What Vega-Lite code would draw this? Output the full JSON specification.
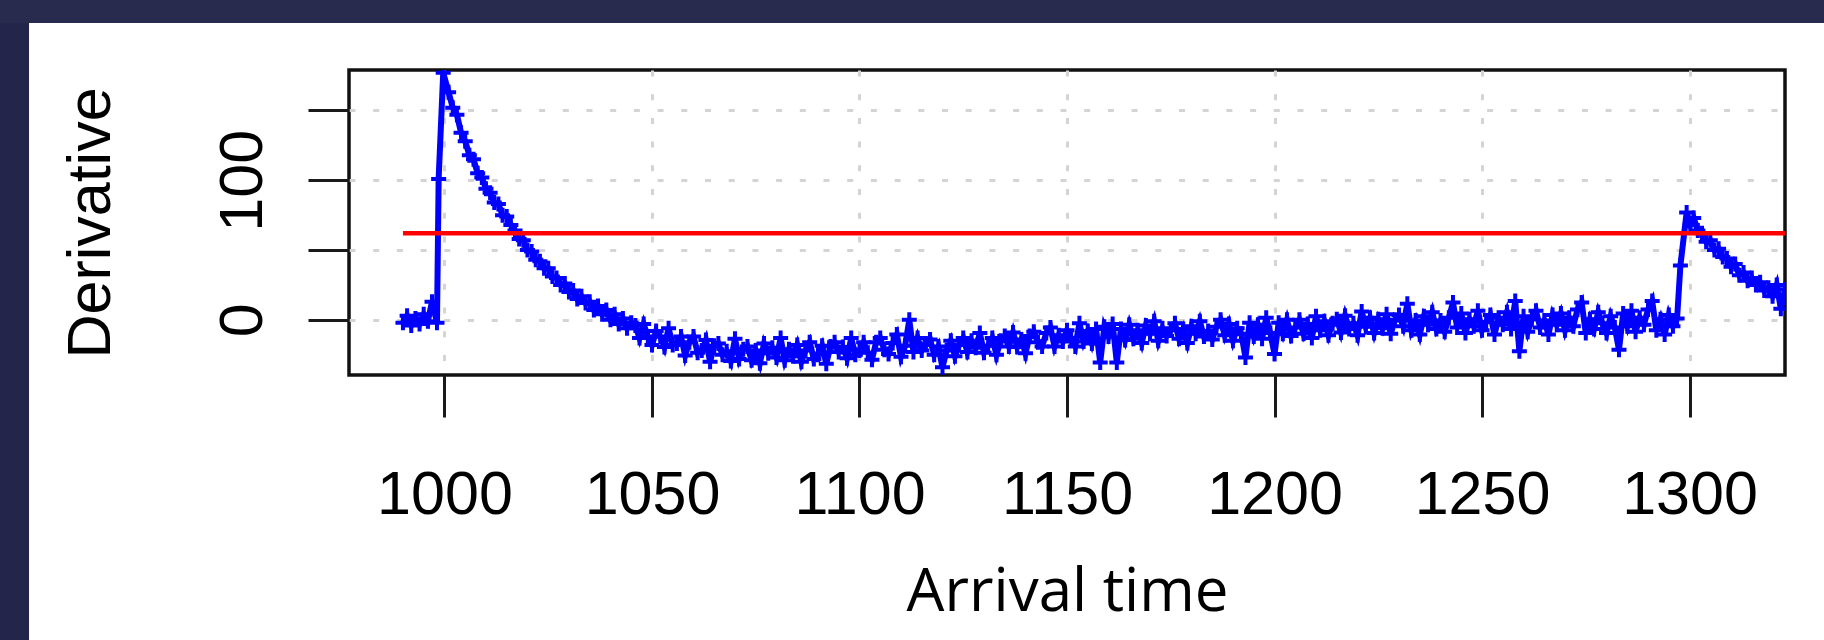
{
  "$schema": "https://vega.github.io/schema/vega-lite/v6.json",
  "width": 1436,
  "height": 305,
  "autosize": {"type": "none"},
  "padding": {"left": 349, "top": 70, "right": 39, "bottom": 265},
  "background": "#ffffff",
  "config": {
    "view": {"stroke": "#111111", "strokeWidth": 3.5},
    "axis": {"domain": false}
  },
  "datasets": {
    "deriv": [
      {"t":990,"d":-2},{"t":991,"d":3},{"t":992,"d":-4},{"t":993,"d":1},{"t":994,"d":-3},{"t":995,"d":4},{"t":996,"d":-1},{"t":997,"d":13},{"t":998.2,"d":-2},{"t":998.6,"d":101},{"t":999.7,"d":177},
      {"t":1001,"d":163},{"t":1002,"d":152},{"t":1003,"d":147},{"t":1004,"d":134},{"t":1005,"d":128},{"t":1006,"d":118},{"t":1007,"d":115},{"t":1008,"d":105},{"t":1009,"d":102},{"t":1010,"d":94},
      {"t":1011,"d":91},{"t":1012,"d":84},{"t":1013,"d":83},{"t":1014,"d":75},{"t":1015,"d":74},{"t":1016,"d":68},{"t":1017,"d":64},{"t":1018,"d":58},{"t":1019,"d":57},{"t":1020,"d":50},
      {"t":1021,"d":49},{"t":1022,"d":43},{"t":1023,"d":42},{"t":1024,"d":37},{"t":1025,"d":37},{"t":1026,"d":31},{"t":1027,"d":30},{"t":1028,"d":25},{"t":1029,"d":26},{"t":1030,"d":20},
      {"t":1031,"d":21},{"t":1032,"d":15},{"t":1033,"d":17},{"t":1034,"d":12},{"t":1035,"d":13},{"t":1036,"d":7},{"t":1037,"d":10},{"t":1038,"d":4},{"t":1039,"d":7},{"t":1040,"d":0},
      {"t":1041,"d":4},{"t":1042,"d":-3},{"t":1043,"d":1},{"t":1044,"d":-6},{"t":1045,"d":-2},
      {"t":1046,"d":-4},{"t":1047,"d":-13},{"t":1048,"d":-3},{"t":1049,"d":-12},{"t":1050,"d":-18},{"t":1051,"d":-8},{"t":1052,"d":-12},{"t":1053,"d":-19.5},{"t":1054,"d":-6},{"t":1055,"d":-18},
      {"t":1056,"d":-17},{"t":1057,"d":-12},{"t":1058,"d":-25.5},{"t":1059,"d":-16},{"t":1060,"d":-12},{"t":1061,"d":-23.5},{"t":1062,"d":-22},{"t":1063,"d":-14.5},{"t":1064,"d":-30},{"t":1065,"d":-18.5},
      {"t":1066,"d":-17},{"t":1067,"d":-25},{"t":1068,"d":-22.5},{"t":1069,"d":-29.5},{"t":1070,"d":-13.5},{"t":1071,"d":-28},{"t":1072,"d":-21},{"t":1073,"d":-19},{"t":1074,"d":-29},{"t":1075,"d":-22},
      {"t":1076,"d":-31},{"t":1077,"d":-17},{"t":1078,"d":-24},{"t":1079,"d":-20},{"t":1080,"d":-27},{"t":1081,"d":-13},{"t":1082,"d":-29},{"t":1083,"d":-21},{"t":1084,"d":-26},{"t":1085,"d":-18},
      {"t":1086,"d":-30},{"t":1087,"d":-22},{"t":1088,"d":-16},{"t":1089,"d":-28},{"t":1090,"d":-25},{"t":1091,"d":-18.5},{"t":1092,"d":-31.5},{"t":1093,"d":-19},{"t":1094,"d":-16},{"t":1095,"d":-23},
      {"t":1096,"d":-19.5},{"t":1097,"d":-27.5},{"t":1098,"d":-13},{"t":1099,"d":-25},{"t":1100,"d":-22},{"t":1101,"d":-16},{"t":1102,"d":-23.5},{"t":1103,"d":-28.5},{"t":1104,"d":-16},{"t":1105,"d":-13},
      {"t":1106,"d":-21.5},{"t":1107,"d":-24.5},{"t":1108,"d":-16.5},{"t":1109,"d":-10.5},{"t":1110,"d":-26.5},{"t":1111,"d":-18.5},{"t":1112,"d":0},{"t":1113,"d":-23},{"t":1114,"d":-13},{"t":1115,"d":-22},
      {"t":1116,"d":-17},{"t":1117,"d":-14},{"t":1118,"d":-25},{"t":1119,"d":-19},{"t":1120,"d":-34},{"t":1121,"d":-22},{"t":1122,"d":-15},{"t":1123,"d":-26},{"t":1124,"d":-18},{"t":1125,"d":-13},
      {"t":1126,"d":-23},{"t":1127,"d":-15},{"t":1128,"d":-20},{"t":1129,"d":-9.5},{"t":1130,"d":-23.5},{"t":1131,"d":-18.5},{"t":1132,"d":-13},{"t":1133,"d":-25},{"t":1134,"d":-15},{"t":1135,"d":-11.5},
      {"t":1136,"d":-19},{"t":1137,"d":-9},{"t":1138,"d":-19.5},{"t":1139,"d":-14},{"t":1140,"d":-24},{"t":1141,"d":-11.5},{"t":1142,"d":-8.5},{"t":1143,"d":-16},{"t":1144,"d":-19},{"t":1145,"d":-9.5},
      {"t":1146,"d":-5.5},{"t":1147,"d":-19},{"t":1148,"d":-11},{"t":1149,"d":-15.5},{"t":1150,"d":-7.5},{"t":1151,"d":-13},{"t":1152,"d":-19},{"t":1153,"d":-2.5},{"t":1154,"d":-15.5},{"t":1155,"d":-8},
      {"t":1156,"d":-17},{"t":1157,"d":-6.5},{"t":1158,"d":-30.5},{"t":1159,"d":-5},{"t":1160,"d":-12},{"t":1161,"d":-3},{"t":1162,"d":-30.5},{"t":1163,"d":-6.5},{"t":1164,"d":-14.5},{"t":1165,"d":-3.5},
      {"t":1166,"d":-13.5},{"t":1167,"d":-7.5},{"t":1168,"d":-16.5},{"t":1169,"d":-4},{"t":1170,"d":-10},{"t":1171,"d":-1},{"t":1172,"d":-15},{"t":1173,"d":-6},{"t":1174,"d":-11.5},{"t":1175,"d":-7.5},
      {"t":1176,"d":-2.5},{"t":1177,"d":-13.5},{"t":1178,"d":-6.5},{"t":1179,"d":-16.5},{"t":1180,"d":-4.5},{"t":1181,"d":-10},{"t":1182,"d":-1},{"t":1183,"d":-12},{"t":1184,"d":-8},{"t":1185,"d":-14},
      {"t":1186,"d":-5},{"t":1187,"d":0},{"t":1188,"d":-11},{"t":1189,"d":-3},{"t":1190,"d":-15},{"t":1191,"d":-6},{"t":1192,"d":-10},{"t":1193,"d":-27},{"t":1194,"d":-2},{"t":1195,"d":-12},
      {"t":1196,"d":-3.5},{"t":1197,"d":-13.5},{"t":1198,"d":1.5},{"t":1199,"d":-9.5},{"t":1200,"d":-24.5},{"t":1201,"d":-2},{"t":1202,"d":-10},{"t":1203,"d":0},{"t":1204,"d":-11.5},{"t":1205,"d":-5.5},
      {"t":1206,"d":0},{"t":1207,"d":-10},{"t":1208,"d":-3},{"t":1209,"d":-13},{"t":1210,"d":2.5},{"t":1211,"d":-7.5},{"t":1212,"d":-1},{"t":1213,"d":-11},{"t":1214,"d":-2.5},{"t":1215,"d":0.5},
      {"t":1216,"d":-9},{"t":1217,"d":3},{"t":1218,"d":-6.5},{"t":1219,"d":-2.5},{"t":1220,"d":-11},{"t":1221,"d":6},{"t":1222,"d":-5},{"t":1223,"d":1.5},{"t":1224,"d":-9.5},{"t":1225,"d":0.5},
      {"t":1226,"d":-6},{"t":1227,"d":4},{"t":1228,"d":-10},{"t":1229,"d":0},{"t":1230,"d":3.5},{"t":1231,"d":-4.5},{"t":1232,"d":11.5},{"t":1233,"d":-7.5},{"t":1234,"d":-0.5},{"t":1235,"d":-10.5},
      {"t":1236,"d":2.5},{"t":1237,"d":-3.5},{"t":1238,"d":5.5},{"t":1239,"d":-6.5},{"t":1240,"d":-0.5},{"t":1241,"d":-8.5},{"t":1242,"d":1.5},{"t":1243,"d":12.5},{"t":1244,"d":-5.5},{"t":1245,"d":4.5},
      {"t":1246,"d":-9.5},{"t":1247,"d":0.5},{"t":1248,"d":-4.5},{"t":1249,"d":6.5},{"t":1250,"d":-7.5},{"t":1251,"d":-1.5},{"t":1252,"d":3.5},{"t":1253,"d":-10.5},{"t":1254,"d":1.5},{"t":1255,"d":-3.5},
      {"t":1256,"d":5.5},{"t":1257,"d":-6.5},{"t":1258,"d":13.5},{"t":1259,"d":-22.5},{"t":1260,"d":2.5},{"t":1261,"d":-8.5},{"t":1262,"d":0.5},{"t":1263,"d":6.5},{"t":1264,"d":-5.5},{"t":1265,"d":-0.5},
      {"t":1266,"d":-10.5},{"t":1267,"d":3.5},{"t":1268,"d":-3.5},{"t":1269,"d":4.5},{"t":1270,"d":-7.5},{"t":1271,"d":1.5},{"t":1272,"d":-4.5},{"t":1273,"d":7.5},{"t":1274,"d":12.5},{"t":1275,"d":-9.5},
      {"t":1276,"d":0.5},{"t":1277,"d":-6.5},{"t":1278,"d":5.5},{"t":1279,"d":-2.5},{"t":1280,"d":-9.5},{"t":1281,"d":2.5},{"t":1282,"d":-5.5},{"t":1283,"d":-21.5},{"t":1284,"d":4.5},{"t":1285,"d":-4.5},
      {"t":1286,"d":6.5},{"t":1287,"d":-8.5},{"t":1288,"d":1.5},{"t":1289,"d":-3.5},{"t":1290,"d":7.5},{"t":1291,"d":13.5},{"t":1292,"d":-7.5},{"t":1293,"d":0.5},{"t":1294,"d":-10.5},{"t":1295,"d":3.5},{"t":1296,"d":-4.5},
      {"t":1297,"d":1},{"t":1297.8,"d":39},{"t":1299.3,"d":77},{"t":1300.2,"d":68},{"t":1301,"d":73},{"t":1302,"d":64},{"t":1303,"d":62},{"t":1304,"d":56},{"t":1305,"d":57},{"t":1306,"d":50},
      {"t":1307,"d":51},{"t":1308,"d":45},{"t":1309,"d":44},{"t":1310,"d":38},{"t":1311,"d":40},{"t":1312,"d":32},{"t":1313,"d":34},{"t":1314,"d":28},{"t":1315,"d":30},{"t":1316,"d":25},
      {"t":1317,"d":27},{"t":1318,"d":21},{"t":1319,"d":23},{"t":1320,"d":17},{"t":1321,"d":25},{"t":1322,"d":8},{"t":1323,"d":22},{"t":1324,"d":12}
    ]
  },
  "layer": [
    {
      "data": {"values": [{}]},
      "mark": {"type": "rect", "color": "#23254a", "clip": false},
      "encoding": {
        "x": {"datum": 850, "type": "quantitative"},
        "x2": {"datum": 899.9},
        "y": {"datum": -260, "type": "quantitative"},
        "y2": {"datum": 300}
      }
    },
    {
      "data": {"values": [{}]},
      "mark": {"type": "rect", "color": "#282a4e", "clip": false},
      "encoding": {
        "x": {"datum": 850, "type": "quantitative"},
        "x2": {"datum": 1400},
        "y": {"datum": 212.7, "type": "quantitative"},
        "y2": {"datum": 300}
      }
    },
    {
      "data": {"name": "deriv"},
      "mark": {
        "type": "line",
        "color": "#0000ff",
        "strokeWidth": 6,
        "clip": true,
        "point": {"shape": "M-1,0L1,0M0,-1L0,1", "filled": false, "size": 225, "strokeWidth": 4, "color": "#0000ff", "clip": true}
      },
      "encoding": {
        "x": {
          "field": "t",
          "type": "quantitative",
          "scale": {"domain": [977, 1323], "nice": false, "zero": false},
          "axis": {
            "values": [1000, 1050, 1100, 1150, 1200, 1250, 1300],
            "format": "d",
            "grid": true,
            "gridColor": "#d4d4d4",
            "gridWidth": 3,
            "gridDash": [6, 17.7],
            "ticks": true,
            "tickSize": 42,
            "tickWidth": 3,
            "tickColor": "#1a1a1a",
            "labelFont": "Liberation Sans",
            "labelFontSize": 61,
            "labelColor": "#000000",
            "labelBaseline": "alphabetic",
            "labelPadding": 96,
            "labelFlush": false,
            "labelOverlap": false,
            "title": "Arrival time",
            "titleFont": "Open Sans",
            "titleFontSize": 60,
            "titleFontWeight": "normal",
            "titleColor": "#000000",
            "titleBaseline": "alphabetic",
            "titleAlign": "center",
            "titleX": 718,
            "titleY": 235
          }
        },
        "y": {
          "field": "d",
          "type": "quantitative",
          "scale": {"domain": [-39.5, 179], "nice": false, "zero": false},
          "axis": {
            "values": [0, 50, 100, 150],
            "grid": true,
            "gridColor": "#d4d4d4",
            "gridWidth": 3,
            "gridDash": [6, 17.7],
            "ticks": true,
            "tickSize": 41,
            "tickWidth": 3,
            "tickColor": "#1a1a1a",
            "labelExpr": "datum.value == 0 || datum.value == 100 ? datum.label : ''",
            "labelFont": "Liberation Sans",
            "labelFontSize": 61,
            "labelColor": "#000000",
            "labelAngle": -90,
            "labelAlign": "center",
            "labelBaseline": "alphabetic",
            "labelPadding": 47,
            "labelFlush": false,
            "labelOverlap": false,
            "title": "Derivative",
            "titleFont": "Liberation Sans",
            "titleFontSize": 61,
            "titleFontWeight": "normal",
            "titleColor": "#000000",
            "titleAngle": -90,
            "titleBaseline": "alphabetic",
            "titleAlign": "center",
            "titleX": -240,
            "titleY": 152.5
          }
        }
      }
    },
    {
      "data": {"values": [{}]},
      "mark": {"type": "rule", "color": "#ff0000", "strokeWidth": 4.5, "clip": true},
      "encoding": {
        "x": {"datum": 990, "type": "quantitative"},
        "x2": {"datum": 1323},
        "y": {"datum": 62, "type": "quantitative"}
      }
    }
  ]
}
